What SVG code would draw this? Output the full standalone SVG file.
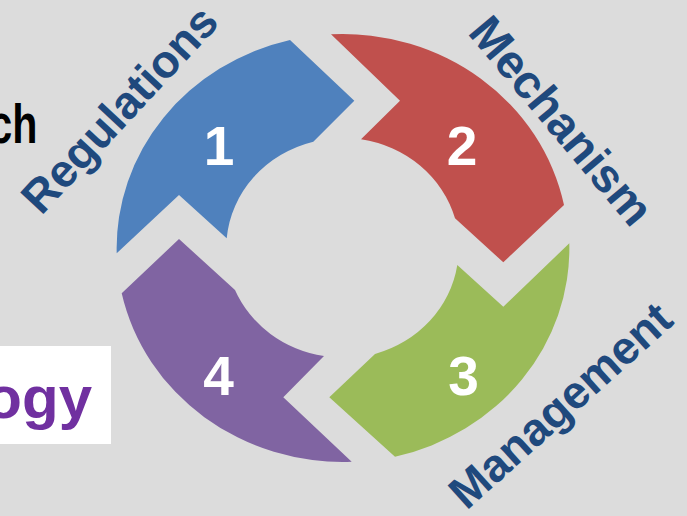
<svg xmlns="http://www.w3.org/2000/svg" width="687" height="516" viewBox="0 0 687 516">
<style>
.num{font-family:"Liberation Sans",Arial,sans-serif;font-weight:bold;font-size:55px;fill:#ffffff;text-anchor:middle}
.lbl{font-family:"Liberation Sans",Arial,sans-serif;font-weight:bold;font-size:46px;fill:#1f497d;text-anchor:middle}
</style>
<rect x="0" y="0" width="687" height="516" fill="#dcdcdc"/>
<g id="side-text">
<text transform="translate(0,143) scale(0.75,1)" x="50" y="0" font-family="Liberation Sans, Arial, sans-serif" font-weight="bold" font-size="55" fill="#000000" text-anchor="end">ch</text>
<rect x="0" y="346" width="111" height="98" fill="#ffffff"/>
<text x="92" y="418" font-family="Liberation Sans, Arial, sans-serif" font-weight="bold" font-size="60" fill="#7030a0" text-anchor="end">ogy</text>
</g>
<g id="step1">
<path d="M116.7 253.3 A226 214 0 0 1 290 40 L354.3 100.7 L313.3 141.7 A116.5 110 0 0 0 226.7 238.3 L179 195 Z" fill="#4f81bd"/>
<text class="num" x="219" y="165">1</text>
<text class="lbl" transform="translate(131,120) rotate(-47)">Regulations</text>
</g>
<g id="step2">
<path d="M331 34.3 A226 214 0 0 1 564 205 L503.3 262.3 L455 218.3 A116.5 110 0 0 0 361 139.3 L400 100.7 Z" fill="#c0504d"/>
<text class="num" x="462" y="165">2</text>
<text class="lbl" transform="translate(549,131) rotate(50)" style="font-size:47px">Mechanism</text>
</g>
<g id="step3">
<path d="M569.3 243.3 A226 214 0 0 1 395 456.7 L329.3 397.3 L375 354 A116.5 110 0 0 0 457.3 265 L503.3 306.7 Z" fill="#9bbb59"/>
<text class="num" x="463.5" y="395">3</text>
<text class="lbl" transform="translate(571,417) rotate(-42)">Management</text>
</g>
<g id="step4">
<path d="M351.7 461.7 A226 214 0 0 1 121.7 293.3 L179 239 L235 290 A116.5 110 0 0 0 324 356 L283.3 397.3 Z" fill="#8064a2"/>
<text class="num" x="218.5" y="395">4</text>
</g>
</svg>
